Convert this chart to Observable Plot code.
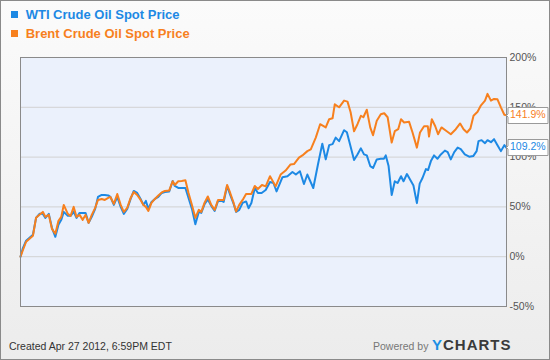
<!DOCTYPE html>
<html>
<head>
<meta charset="utf-8">
<script src="https://cdn.jsdelivr.net/npm/d3@7"></script>
<script src="https://cdn.jsdelivr.net/npm/@observablehq/plot@0.6"></script>
<style>
  html, body { margin: 0; padding: 0; }
  #wrap {
    position: relative; width: 550px; height: 360px; box-sizing: border-box;
    border: 1px solid #8a8a8a; background: linear-gradient(#fbfbfb, #ececec);
    font-family: "Liberation Sans", Arial, sans-serif; overflow: hidden;
  }
  .leg { position: absolute; left: 24.7px; font-weight: bold; font-size: 13px; line-height: 15px; white-space: nowrap; }
  .sq { position: absolute; left: 9.7px; width: 7px; height: 7px; }
  #chart { position: absolute; left: 0; top: 49px; }
  .foot { position: absolute; font-size: 10.5px; line-height: 12px; white-space: nowrap; }
  #logo { position: absolute; left: 431px; top: 336px; font-size: 15px; line-height: 15px; font-weight: bold; letter-spacing: 1px; color: #3a3a3a; }
</style>
</head>
<body>
<div id="wrap">
  <div class="sq" id="sq0" style="top:10px"></div>
  <div class="leg" id="leg0" style="top:5.7px"></div>
  <div class="sq" id="sq1" style="top:29px"></div>
  <div class="leg" id="leg1" style="top:24.7px"></div>
  <div id="chart"></div>
  <div class="foot" style="left:8px; top:338.6px; color:#333">Created Apr 27 2012, 6:59PM EDT</div>
  <div class="foot" style="left:372px; top:338.6px; color:#777">Powered by</div>
  <div id="logo"><span style="color:#1d8fe4">Y</span>CHARTS</div>
</div>
<script>
const seriesNames = ["WTI Crude Oil Spot Price", "Brent Crude Oil Spot Price"];
const seriesColors = ["#1d89e4", "#f7801e"];
const yTicks = [-50, 0, 50, 100, 150, 200];

// week index (0 = late Apr 2009), cumulative % change
const wtiWeek = [0,0.7,1.8,2.9,4.0,5.0,6.1,7.2,8.0,9.1,10.1,11.2,12.2,13.1,13.9,15.2,16.1,17.1,18.0,19.0,20.0,20.9,21.9,22.9,24.0,24.9,26.1,27.1,28.2,28.9,30.0,31.1,32.2,33.2,34.3,35.4,36.4,37.5,38.6,39.5,40.3,41.1,42.1,43.2,44.3,45.4,46.4,47.8,48.9,49.6,50.7,53.0,54.0,55.1,56.2,57.3,58.1,59.2,60.2,61.3,62.4,63.5,64.6,65.3,66.4,67.4,68.5,69.3,70.3,71.4,72.5,73.3,74.2,75.3,76.3,77.5,78.8,80.2,81.3,82.3,84.2,85.8,87.4,88.5,89.8,91.1,92.2,94.1,95.6,97.0,98.1,99.2,100.3,101.3,102.4,104.0,104.9,105.9,107.2,108.3,109.4,110.4,111.3,112.4,113.3,114.5,115.8,116.8,117.4,118.3,119.3,120.3,121.2,122.3,123.1,124.2,125.2,126.3,127.4,128.3,129.2,130.3,131.0,131.9,132.9,134.0,135.1,136.4,137.3,138.3,139.4,140.5,141.5,142.8,144.2,145.5,146.6,147.2,148.2,149.3,150.1,151.2,152.2,153.3,154.4,155.5,156.2];
const wtiPct = [0,8,16,19,22,39,43,43,39,43,29,20,32,37,45,41,41,45,39,44,44,44,34,40,48,60,62,62,61.5,60,52,60,50,43,48,58,66,64,58,52,56,48,55,58,60,64,65,65.5,76,71,69,69,59,48,32.6,45,44,53,57.5,51,46,56,56,55,71,62,53,45,47,54,55.5,48.7,54,69,64,64,67,75,74,65.6,79.8,80.8,85,82.5,85.8,73,82.5,69,92.6,113.5,97.7,112,113,119.6,116,127,125,113,97,102.7,108.8,102.7,101.7,91,89,97.7,98.3,98.4,101.7,91,62,75.7,74,80.8,75.7,83,77.4,71.4,53.8,73.4,79,88,87,96,101.7,98.3,102.7,106.5,105,97.7,105,109.5,108,102.7,100.4,101,106,116,117,114,117,115,118,112,106,112,109.2];

const brentWeek = [0,0.7,1.8,2.9,4.0,5.0,6.1,7.2,8.0,9.1,10.1,11.2,12.2,13.1,13.9,15.2,16.1,17.1,18.0,19.0,20.0,20.9,21.9,22.9,24.0,24.9,26.1,27.1,28.2,28.9,30.0,31.1,32.2,33.2,34.3,35.4,36.4,37.5,38.6,39.5,40.3,41.1,42.1,43.2,44.3,45.4,46.4,47.8,48.9,49.6,50.7,51.8,53.0,54.0,55.1,56.2,57.3,58.1,59.2,60.2,61.3,62.4,63.5,64.6,65.3,66.4,67.4,68.5,69.3,70.3,71.4,72.5,73.3,74.2,75.3,76.3,77.6,78.8,80.2,82.0,83.6,85.2,86.8,87.9,89.5,90.6,92.2,93.3,94.9,96.3,98.1,99.2,100.3,101.0,102.4,104.0,105.1,106.1,107.2,108.3,109.4,110.2,111.3,112.4,113.3,114.5,115.8,116.9,118.0,119.3,120.3,121.4,122.3,123.3,124.9,126.0,127.4,128.4,129.7,130.9,131.3,132.2,133.3,134.2,135.3,137.0,138.3,139.9,141.3,142.4,143.5,144.6,145.6,146.9,148.0,149.3,150.1,151.2,152.2,153.3,154.4,155.5,156.2];
const brentPct = [0,6,15,18,21,39,42,45,40,42,28,23,36,40,52,43,41,50,40,42,37,42,34,42,49,57,58,57,59,60,53,63,52,45,49,59,65,62,57,52,50,46,54,58,61.5,64.5,66,66.5,75.7,72,75.7,76,76.7,64,52,39,47,45,54.5,60.5,52,47,57,57,57,72,64,54,45.3,52,57,63,63,63,71,68,72,70.6,80.8,70.6,82.5,86.5,92.6,93,99.4,101.7,106,107.8,119.6,133,129.8,138,139,153,150,156.7,155.7,145,126,133,141.5,140,147.6,129.8,122,136.4,143,144,140,114.6,126,128,138,134.8,135.4,124.7,109.5,124.7,131,131,120.6,138,131,123,129.8,126,123,128,133.8,128,124.7,128.7,141.5,145.5,152,156.7,163.5,156.7,158.4,158,150,142.5,141.9];

const wti = wtiWeek.map((w, i) => ({week: w, pct: wtiPct[i]}));
const brent = brentWeek.map((w, i) => ({week: w, pct: brentPct[i]}));
const lastWti = [wti[wti.length - 1]];
const lastBrent = [brent[brent.length - 1]];

// legend
seriesNames.forEach((n, i) => {
  document.getElementById("leg" + i).textContent = n;
  document.getElementById("leg" + i).style.color = seriesColors[i];
  document.getElementById("sq" + i).style.background = seriesColors[i];
});

const pctFmt = d => `${d}%`;
const tipOpts = {
  x: "week", y: "pct", title: d => d.pct.toFixed(1) + "%",
  anchor: "left", pointerSize: 3, textPadding: 2, fill: "white", stroke: "#9a9a9a",
  fontSize: 10.5, pathFilter: "none", lineHeight: 1.1
};

const svg = Plot.plot({
  width: 548, height: 270,
  marginLeft: 19, marginRight: 43, marginTop: 7, marginBottom: 14,
  style: {background: "transparent", fontFamily: "Liberation Sans, Arial, sans-serif", fontSize: "10.5px", color: "#555"},
  x: {domain: [0, 156.2], axis: null},
  y: {domain: [-50, 200], axis: null},
  marks: [
    Plot.frame({fill: "#ebf1fc"}),
    Plot.ruleY(yTicks, {stroke: "#d2d2d2", strokeWidth: 1}),
    Plot.axisY(yTicks, {anchor: "right", tickFormat: pctFmt, tickSize: 0, tickPadding: 3, fontSize: 10.5, fill: "#555", label: null}),
    Plot.line(wti, {x: "week", y: "pct", stroke: seriesColors[0], strokeWidth: 2}),
    Plot.line(brent, {x: "week", y: "pct", stroke: seriesColors[1], strokeWidth: 2}),
    Plot.frame({stroke: "#8a8a8a"}),
    Plot.tip(lastBrent, tipOpts),
    Plot.tip(lastWti, tipOpts)
  ]
});
const tips = svg.querySelectorAll('g[aria-label="tip"]');
const tipColors = [seriesColors[1], seriesColors[0]];
tips.forEach((g, i) => g.querySelectorAll("text, tspan").forEach(t => t.setAttribute("fill", tipColors[i])));
document.getElementById("chart").appendChild(svg);
</script>
</body>
</html>
